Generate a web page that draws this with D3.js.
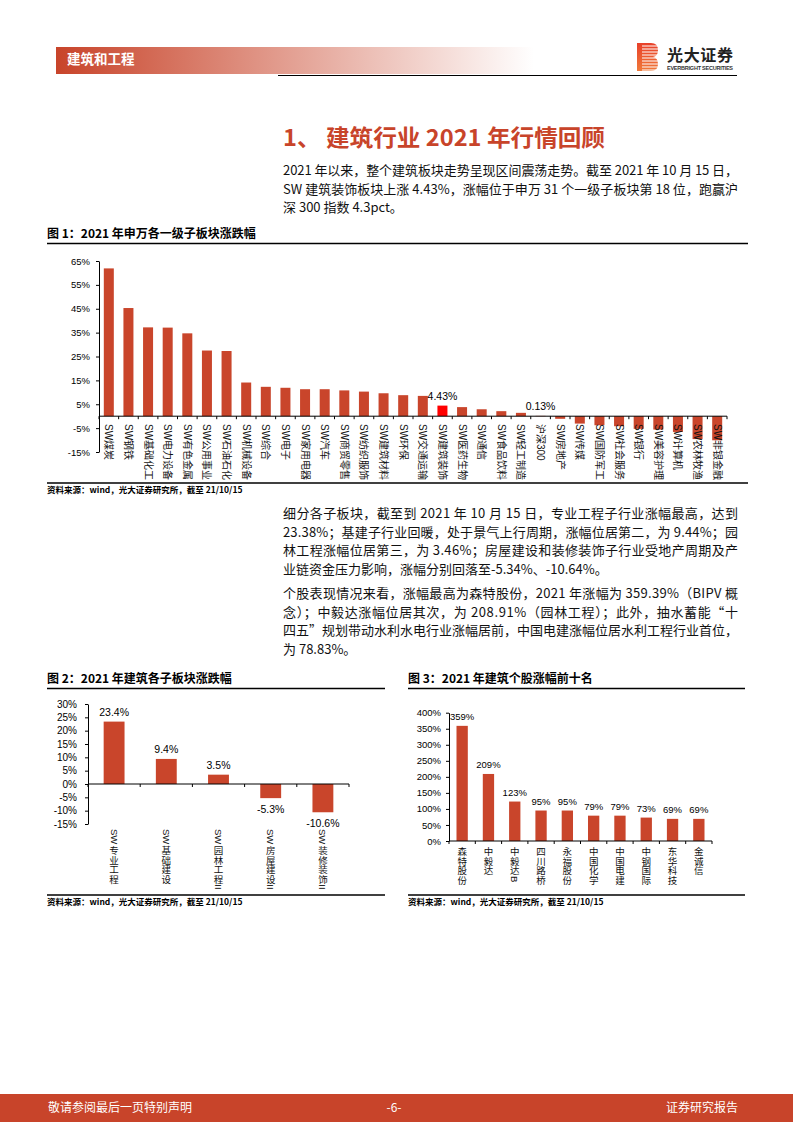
<!DOCTYPE html>
<html><head><meta charset="utf-8">
<script src="https://cdn.jsdelivr.net/npm/d3@7"></script>
<style>body{margin:0;background:#fff}svg{display:block}</style>
</head><body>
<svg id="page" width="793" height="1122"></svg>
<script>
// ---------------- DATA ----------------
const sectors = ["SW煤炭","SW钢铁","SW基础化工","SW电力设备","SW有色金属","SW公用事业","SW石油石化","SW机械设备","SW综合","SW电子","SW家用电器","SW汽车","SW商贸零售","SW纺织服饰","SW建筑材料","SW环保","SW交通运输","SW建筑装饰","SW医药生物","SW通信","SW食品饮料","SW轻工制造","沪深300","SW房地产","SW传媒","SW国防军工","SW社会服务","SW银行","SW美容护理","SW计算机","SW农林牧渔","SW非银金融"];
const sectorValues = [61.9,45.3,37.2,37.1,34.7,27.5,27.3,14.1,12.3,11.9,11.3,11.3,10.8,10.3,9.6,8.8,8.5,4.43,3.8,2.9,2.1,1.4,0.13,-1.1,-3.1,-3.8,-4.2,-5.3,-5.6,-6.6,-9.6,-10.1];
const sectorTicks = [-15,-5,5,15,25,35,45,55,65];
const highlightSector = "SW建筑装饰";
const labeledSectors = ["SW建筑装饰","沪深300"];

const subSectors = ["SW专业工程","SW基础建设","SW园林工程II","SW房屋建设II","SW装修装饰II"];
const subValues = [23.4,9.4,3.5,-5.3,-10.6];
const subTicks = [-15,-10,-5,0,5,10,15,20,25,30];

const stocks = ["森特股份","中毅达","中毅达B","四川路桥","永福股份","中国化学","中国电建","中钢国际","东华科技","金诚信"];
const stockValues = [359,209,123,95,95,79,79,73,69,69];
const stockTicks = [0,50,100,150,200,250,300,350,400];

// ---------------- PAGE ----------------
const RED = "#c8442a";
const BAR = "#c9452b";
const CJK = "'Noto Sans CJK SC','Noto Sans',sans-serif";
const LAT = "'Liberation Sans','Noto Sans CJK SC',sans-serif";
const svg = d3.select("#page");
const defs = svg.append("defs");
const hg = defs.append("linearGradient").attr("id","hg").attr("x1","0").attr("x2","1").attr("y1","0").attr("y2","0");
hg.append("stop").attr("offset","0").attr("stop-color",RED);
hg.append("stop").attr("offset","1").attr("stop-color","#ffffff");
const lg = defs.append("linearGradient").attr("id","lg").attr("x1","0").attr("x2","0").attr("y1","0").attr("y2","1");
lg.append("stop").attr("offset","0").attr("stop-color","#e8402a");
lg.append("stop").attr("offset","1").attr("stop-color","#f07a3a");

// header
svg.append("rect").attr("x",56).attr("y",47).attr("width",478).attr("height",27).attr("fill","url(#hg)");
svg.append("text").attr("x",67).attr("y",64).attr("font-family",CJK).attr("font-weight","bold")
  .attr("font-size",13.5).attr("fill","#fff").text("建筑和工程");
svg.append("line").attr("x1",278).attr("x2",737).attr("y1",75.5).attr("y2",75.5).attr("stroke","#000").attr("stroke-width",1);
// logo
const logo = svg.append("g");
logo.append("path").attr("d","M637,43 H651 Q658,43 658,50 Q658,56 653,57 Q658,58 658,64 Q658,71 651,71 H637 Z").attr("fill","url(#lg)");
for (let i=0;i<9;i++){
  logo.append("line").attr("x1",642).attr("x2",658).attr("y1",46+i*3).attr("y2",46+i*3).attr("stroke","#fff").attr("stroke-width",1);
}
svg.append("text").attr("x",667).attr("y",61).attr("font-family",CJK).attr("font-weight","bold")
  .attr("font-size",16).attr("textLength",66).attr("fill","#222").text("光大证券");
svg.append("text").attr("x",667).attr("y",70).attr("font-family",LAT).attr("font-weight","bold")
  .attr("font-size",5.5).attr("textLength",66).attr("fill","#333").text("EVERBRIGHT SECURITIES");

// section title
svg.append("text").attr("x",283).attr("y",146).attr("font-family",CJK).attr("font-weight","bold")
  .attr("font-size",23).attr("fill",RED).attr("textLength",322).attr("lengthAdjust","spacingAndGlyphs")
  .text("1、 建筑行业 2021 年行情回顾");

function bodyLine(x,y,str,len){
  const t = svg.append("text").attr("x",x).attr("y",y).attr("font-family",CJK)
    .attr("font-size",13).attr("fill","#111").text(str);
  if (len) t.attr("textLength",len).attr("lengthAdjust","spacing");
  return t;
}
bodyLine(283,175,"2021 年以来，整个建筑板块走势呈现区间震荡走势。截至 2021 年 10 月 15 日，",455);
bodyLine(283,193.5,"SW 建筑装饰板块上涨 4.43%，涨幅位于申万 31 个一级子板块第 18 位，跑赢沪",455);
bodyLine(283,212,"深 300 指数 4.3pct。");

bodyLine(283,518,"细分各子板块，截至到 2021 年 10 月 15 日，专业工程子行业涨幅最高，达到",455);
bodyLine(283,536.5,"23.38%；基建子行业回暖，处于景气上行周期，涨幅位居第二，为 9.44%；园",455);
bodyLine(283,555,"林工程涨幅位居第三，为 3.46%；房屋建设和装修装饰子行业受地产周期及产",455);
bodyLine(283,573.5,"业链资金压力影响，涨幅分别回落至-5.34%、-10.64%。");
bodyLine(283,598,"个股表现情况来看，涨幅最高为森特股份，2021 年涨幅为 359.39%（BIPV 概",455);
bodyLine(283,616.5,"念）；中毅达涨幅位居其次，为 208.91%（园林工程）；此外，抽水蓄能“十",455);
bodyLine(283,635,"四五”规划带动水利水电行业涨幅居前，中国电建涨幅位居水利工程行业首位，",455);
bodyLine(283,653.5,"为 78.83%。");

// figure frames
function figFrame(x1,x2,titleY,lineY,bottomY,title){
  svg.append("text").attr("x",x1).attr("y",titleY).attr("font-family",CJK).attr("font-weight","bold")
    .attr("font-size",12).attr("fill","#000").text(title);
  svg.append("line").attr("x1",x1).attr("x2",x2).attr("y1",lineY).attr("y2",lineY).attr("stroke","#000").attr("stroke-width",1.3);
  svg.append("line").attr("x1",x1).attr("x2",x2).attr("y1",bottomY).attr("y2",bottomY).attr("stroke","#000").attr("stroke-width",1.3);
  svg.append("text").attr("x",x1).attr("y",bottomY+10).attr("font-family",CJK).attr("font-weight","bold")
    .attr("font-size",8.5).attr("fill","#000").text("资料来源：wind，光大证券研究所，截至 21/10/15");
}
figFrame(47,748,238,243.5,483,"图 1：2021 年申万各一级子板块涨跌幅");
figFrame(47,385,683,688.5,895,"图 2：2021 年建筑各子板块涨跌幅");
figFrame(408,745,683,688.5,895,"图 3：2021 年建筑个股涨幅前十名");

// generic chart helpers
function yAxis(g, scale, ticks, x, fs, pad){
  const a = g.append("g").attr("transform",`translate(${x},0)`)
    .call(d3.axisLeft(scale).tickValues(ticks).tickSize(3).tickSizeOuter(0).tickPadding(pad).tickFormat(d=>d+"%"));
  a.selectAll("text").attr("font-family",LAT).attr("font-size",fs).attr("fill","#000");
  a.selectAll("line,path").attr("stroke","#000");
  return a;
}
function xAxis(g, scale, y){
  const [r0,r1] = scale.range();
  g.append("line").attr("x1",r0).attr("x2",r1).attr("y1",y).attr("y2",y).attr("stroke","#000");
  const n = scale.domain().length;
  g.selectAll(null).data(d3.range(n+1)).join("line")
    .attr("x1",i=>r0+i*scale.step()).attr("x2",i=>r0+i*scale.step())
    .attr("y1",y).attr("y2",y+3).attr("stroke","#000");
}
// vertical label: CJK runs upright in vertical writing mode, Latin runs rotated 90°
function vertLabel(g, cx, y0, str, fs){
  const runs = str.match(/[A-Za-z0-9]+|[^A-Za-z0-9]+/g);
  let yc = y0;
  runs.forEach(r=>{
    if (/^[A-Za-z0-9]+$/.test(r)){
      const t = g.append("text").attr("transform",`translate(${cx},${yc}) rotate(90)`)
        .attr("dominant-baseline","central").attr("font-family",LAT).attr("font-size",fs).attr("fill","#111").text(r);
      yc += t.node().getComputedTextLength() + 1.5;
    } else {
      g.append("text").attr("x",cx).attr("y",yc)
        .style("writing-mode","vertical-rl").style("text-orientation","upright")
        .attr("font-family",CJK).attr("font-size",fs).attr("fill","#111").text(r);
      yc += fs*Array.from(r).length + 0.5;
    }
  });
}

// ---------------- CHART 1 ----------------
{
  const g = svg.append("g");
  const y = d3.scaleLinear().domain([-15,65]).range([452,261]);
  const x = d3.scaleBand().domain(sectors).range([99,727]).paddingInner(0.49).paddingOuter(0.245);
  const data = sectors.map((s,i)=>({s,v:sectorValues[i]}));
  g.selectAll("rect").data(data).join("rect")
    .attr("x",d=>x(d.s)).attr("width",x.bandwidth())
    .attr("y",d=>Math.min(y(d.v),y(0))).attr("height",d=>Math.abs(y(d.v)-y(0)))
    .attr("fill",d=>d.s===highlightSector?"#ff0000":BAR);
  yAxis(g,y,sectorTicks,99,9.5,6);
  xAxis(g,x,y(0));
  g.selectAll("text.cat").data(data).join("text").attr("class","cat")
    .attr("transform",d=>`translate(${x(d.s)+x.bandwidth()/2},424) rotate(90)`)
    .attr("dominant-baseline","central").attr("font-family",LAT).attr("font-size",10).attr("fill","#111")
    .text(d=>d.s);
  g.selectAll("text.val").data(data.filter(d=>labeledSectors.includes(d.s))).join("text").attr("class","val")
    .attr("x",d=>x(d.s)+x.bandwidth()/2).attr("y",d=>y(Math.max(d.v,0))-6)
    .attr("text-anchor","middle").attr("font-family",LAT).attr("font-size",10.5).attr("fill","#000")
    .text(d=>d.v.toFixed(2)+"%");
}

// ---------------- CHART 2 ----------------
{
  const g = svg.append("g");
  const y = d3.scaleLinear().domain([-15,30]).range([824,704]);
  const x = d3.scaleBand().domain(subSectors).range([88,349]).paddingInner(0.6).paddingOuter(0.3);
  const data = subSectors.map((s,i)=>({s,v:subValues[i]}));
  g.selectAll("rect").data(data).join("rect")
    .attr("x",d=>x(d.s)).attr("width",x.bandwidth())
    .attr("y",d=>Math.min(y(d.v),y(0))).attr("height",d=>Math.abs(y(d.v)-y(0)))
    .attr("fill",BAR);
  yAxis(g,y,subTicks,88,10,8);
  xAxis(g,x,y(0));
  g.selectAll("text.val").data(data).join("text").attr("class","val")
    .attr("x",d=>x(d.s)+x.bandwidth()/2).attr("y",d=>d.v>=0?y(d.v)-6:y(d.v)+15)
    .attr("text-anchor","middle").attr("font-family",LAT).attr("font-size",10.5).attr("fill","#000")
    .text(d=>d.v.toFixed(1)+"%");
  data.forEach(d=>vertLabel(g, x(d.s)+x.bandwidth()/2, 829, d.s, 9.5));
}

// ---------------- CHART 3 ----------------
{
  const g = svg.append("g");
  const y = d3.scaleLinear().domain([0,400]).range([841,712.7]);
  const x = d3.scaleBand().domain(stocks).range([449,712]).paddingInner(0.57).paddingOuter(0.285);
  const data = stocks.map((s,i)=>({s,v:stockValues[i]}));
  g.selectAll("rect").data(data).join("rect")
    .attr("x",d=>x(d.s)).attr("width",x.bandwidth())
    .attr("y",d=>y(d.v)).attr("height",d=>y(0)-y(d.v))
    .attr("fill",BAR);
  yAxis(g,y,stockTicks,449,9.5,5);
  xAxis(g,x,y(0));
  g.selectAll("text.val").data(data).join("text").attr("class","val")
    .attr("x",d=>x(d.s)+x.bandwidth()/2).attr("y",d=>y(d.v)-6)
    .attr("text-anchor","middle").attr("font-family",LAT).attr("font-size",9.5).attr("fill","#000")
    .text(d=>d.v+"%");
  data.forEach(d=>vertLabel(g, x(d.s)+x.bandwidth()/2, 847, d.s, 9.5));
}

// ---------------- FOOTER ----------------
svg.append("rect").attr("x",0).attr("y",1094).attr("width",793).attr("height",28).attr("fill",RED);
svg.append("text").attr("x",48).attr("y",1112).attr("font-family",CJK).attr("font-size",12).attr("fill","#fff").text("敬请参阅最后一页特别声明");
svg.append("text").attr("x",394).attr("y",1112).attr("text-anchor","middle").attr("font-family",CJK).attr("font-size",12).attr("fill","#fff").text("-6-");
svg.append("text").attr("x",738).attr("y",1112).attr("text-anchor","end").attr("font-family",CJK).attr("font-size",12).attr("fill","#fff").text("证券研究报告");
</script>
</body></html>
